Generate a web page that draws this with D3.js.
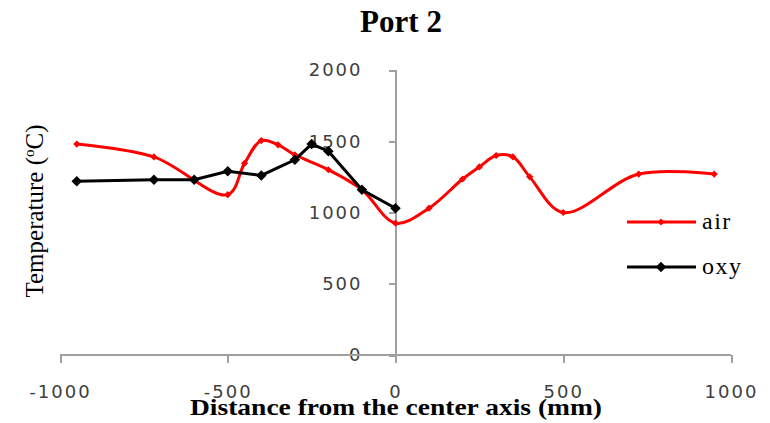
<!DOCTYPE html>
<html lang="en">
  <head>
    <meta charset="UTF-8"/>
    <title>Port 2</title>
    <script src="https://d3js.org/d3.v7.min.js"></script>
    <style>
      body { margin: 0; background: #fff; }
      .tick text {
        font-family: 'DejaVu Sans', Verdana, sans-serif;
        font-size: 18px;
        fill: #404040;
        letter-spacing: 2px;
      }
      .axis path, .axis line {
        stroke: #a0a0a0;
        stroke-width: 2px;
        shape-rendering: crispEdges;
      }
      .title { font-family: 'Liberation Serif', serif; font-weight: bold; font-size: 31px; }
      .axis-label { font-family: 'Liberation Serif', serif; font-size: 25px; }
      .legend text { font-family: 'Liberation Serif', serif; font-size: 24px; letter-spacing: 1.5px; }
    </style>
  </head>
  <body>
    <script type="text/javascript">

      // air series (smoothed line)
      const airX = [-950, -720, -500, -450, -400, -350, -300, -200, -100, 0, 100, 200, 250, 300, 350, 400, 500, 725, 950]
      const airY = [1480, 1390, 1125, 1345, 1505, 1475, 1405, 1300, 1160, 925, 1030, 1235, 1320, 1400, 1390, 1250, 1000, 1270, 1270]

      // oxy series (straight segments)
      const oxyX = [-950, -720, -600, -500, -400, -300, -250, -200, -100, 0]
      const oxyY = [1220, 1230, 1230, 1290, 1260, 1370, 1480, 1430, 1160, 1030]

      const xTicks = [-1000, -500, 0, 500, 1000]
      const yTicks = [0, 500, 1000, 1500, 2000]

      const W = 770, H = 423

      const svg = d3.select("body").append("svg")
          .attr("width", W)
          .attr("height", H)

      const x = d3.scaleLinear().domain([-1000, 1000]).range([60, 731])
      const y = d3.scaleLinear().domain([0, 2000]).range([355, 70])

      const plain = d => String(d)

      // y axis sits on x = 0
      const yAxisG = svg.append("g")
          .attr("class", "axis")
          .attr("transform", `translate(${x(0)},0)`)
          .call(d3.axisLeft(y).tickValues(yTicks).tickFormat(plain).tickSize(7).tickSizeOuter(0).tickPadding(26))
      yAxisG.select(".domain").attr("d", `M0,${y(2000)}V${y(0) + 8}`)

      const xAxisG = svg.append("g")
          .attr("class", "axis")
          .attr("transform", `translate(0,${y(0)})`)
          .call(d3.axisBottom(x).tickValues(xTicks).tickFormat(plain).tickSize(8).tickSizeOuter(0).tickPadding(22))
      xAxisG.select(".domain").attr("d", `M${x(-1000)},0H${x(1000)}`)

      const toPts = (xs, ys) => xs.map((v, i) => [v, ys[i]])
      const air = toPts(airX, airY)
      const oxy = toPts(oxyX, oxyY)

      const smooth = d3.line()
          .x(d => x(d[0])).y(d => y(d[1]))
          .curve(d3.curveCatmullRom.alpha(0.5))
      const straight = d3.line()
          .x(d => x(d[0])).y(d => y(d[1]))

      svg.append("path")
          .attr("d", smooth(air))
          .attr("fill", "none")
          .attr("stroke", "#ff0000")
          .attr("stroke-width", 3)

      svg.append("path")
          .attr("d", straight(oxy))
          .attr("fill", "none")
          .attr("stroke", "#000")
          .attr("stroke-width", 3)

      const diamond = size => d3.symbol().type(d3.symbolSquare).size(size)

      svg.append("g").selectAll("path")
          .data(air)
          .join("path")
          .attr("d", diamond(26))
          .attr("transform", d => `translate(${x(d[0])},${y(d[1])}) rotate(45)`)
          .attr("fill", "#ff0000")

      svg.append("g").selectAll("path")
          .data(oxy)
          .join("path")
          .attr("d", diamond(55))
          .attr("transform", d => `translate(${x(d[0])},${y(d[1])}) rotate(45)`)
          .attr("fill", "#000")

      // title and axis labels
      svg.append("text")
          .attr("class", "title")
          .attr("x", 401)
          .attr("y", 32)
          .attr("text-anchor", "middle")
          .text("Port 2")

      svg.append("text")
          .attr("class", "title")
          .attr("x", 396)
          .attr("y", 415)
          .attr("text-anchor", "middle")
          .attr("textLength", 412)
          .attr("lengthAdjust", "spacingAndGlyphs")
          .style("font-size", "24px")
          .text("Distance from the center axis (mm)")

      const yl = svg.append("text")
          .attr("class", "axis-label")
          .attr("text-anchor", "middle")
          .attr("transform", "translate(43,211) rotate(-90)")
      yl.append("tspan").text("Temperature (")
      yl.append("tspan").attr("dy", -9).style("font-size", "15px").text("o")
      yl.append("tspan").attr("dy", 9).text("C)")

      // legend
      const series = [
        {name: "air", color: "#ff0000", size: 26, y: 222},
        {name: "oxy", color: "#000", size: 55, y: 267}
      ]
      const lg = svg.append("g").attr("class", "legend")
      series.forEach(s => {
        lg.append("line")
            .attr("x1", 627).attr("x2", 696)
            .attr("y1", s.y).attr("y2", s.y)
            .attr("stroke", s.color).attr("stroke-width", 3)
        lg.append("path")
            .attr("d", diamond(s.size))
            .attr("transform", `translate(661,${s.y}) rotate(45)`)
            .attr("fill", s.color)
        lg.append("text")
            .attr("x", 702)
            .attr("y", s.y + 7)
            .text(s.name)
      })

    </script>
  </body>
</html>
